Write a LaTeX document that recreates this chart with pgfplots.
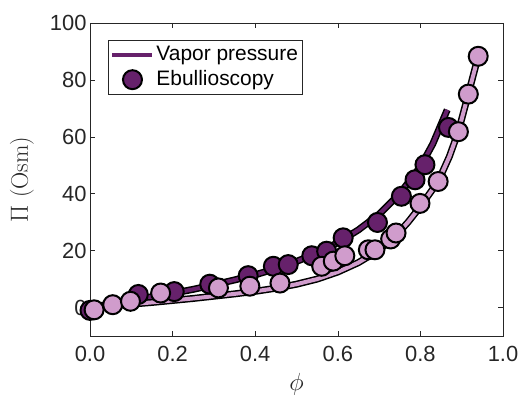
\documentclass[border=0pt]{standalone}
\usepackage{fontspec}
\newfontfamily\arial{Liberation Sans}
\usepackage{pgfplots}
\pgfplotsset{compat=1.18}
\definecolor{darkp}{HTML}{66216B}
\definecolor{lightp}{HTML}{D09CCC}
\definecolor{axgray}{HTML}{262626}
\pgfplotsset{
  linelegend/.style={legend image code/.code={\draw[##1] (0bp,0bp) -- (40bp,0bp);}},
  marklegend/.style={legend image code/.code={\draw[##1] plot coordinates {(20bp,0bp)};}},
}
\pgfplotstableread{
x y
0 0
0.05 1.3
0.1 2.6
0.15 3.8
0.2 5.0
0.25 6.4
0.3 8.0
0.35 9.7
0.4 11.5
0.45 13.7
0.5 16.2
0.55 19.2
0.6 22.8
0.65 27.3
0.7 32.8
0.75 40.0
0.8 49.5
0.83 57.5
0.865 69.5
}\darkline
\pgfplotstableread{
x y
0 0
0.05 0.6
0.1 1.2
0.15 1.8
0.2 2.5
0.25 3.2
0.3 4.0
0.35 4.8
0.4 5.7
0.45 6.8
0.5 8.2
0.55 10.0
0.6 12.5
0.65 15.8
0.7 20.2
0.74 25.2
0.77 30.0
0.8 35.5
0.843 44.3
0.87 53.0
0.892 61.9
0.916 75.0
0.94 88.3
}\lightline
\pgfplotstableread{
x y
0.0 -1.0
0.117 4.6
0.204 5.6
0.29 8.2
0.383 11.2
0.444 14.5
0.48 15.1
0.537 18.2
0.573 19.8
0.613 24.5
0.696 29.9
0.754 39.1
0.787 44.9
0.811 50.2
0.868 63.3
}\darkpts
\pgfplotstableread{
x y
0.01 -0.8
0.055 1.0
0.098 2.2
0.171 5.1
0.311 6.9
0.387 7.5
0.46 8.6
0.561 14.5
0.589 16.3
0.617 18.2
0.674 20.3
0.69 20.3
0.728 24.1
0.741 26.2
0.799 36.6
0.843 44.3
0.892 61.8
0.916 75.0
0.94 88.3
}\lightpts
\begin{document}
\begin{tikzpicture}
\begin{axis}[
  at={(0,0)}, anchor=south west,
  scale only axis, width=413bp, height=313bp,
  xmin=0, xmax=1, ymin=-10, ymax=100,
  xtick={0,0.2,0.4,0.6,0.8,1.0},
  ytick={0,20,40,60,80,100},
  xticklabel style={yshift=-7bp, /pgf/number format/.cd, fixed, fixed zerofill, precision=1},
  /pgf/number format/assume math mode=true,
  tick align=inside, tick pos=both,
  major tick length=5bp,
  axis line style={axgray, line width=0.6bp},
  every tick/.style={axgray, line width=0.6bp},
  tick label style={font=\arial\fontsize{22}{26}\selectfont, text=axgray},
  xlabel={$\phi$}, ylabel={$\Pi$ (Osm)},
  label style={font=\fontsize{24}{29}\selectfont, text=axgray},
  xlabel style={at={(rel axis cs:0.5,-0.153)}, anchor=center},
  ylabel style={at={(rel axis cs:-0.165,0.5)}, anchor=center},
  clip=false,
  legend style={at={(rel axis cs:0.044,0.946)}, anchor=north west,
    font=\arial\fontsize{21}{25}\selectfont, draw=axgray, line width=0.6bp,
    inner xsep=2bp, inner ysep=3bp, row sep=2bp, cells={anchor=west}, fill=white,
    nodes={text height=15bp, text depth=4bp}},
]
\addplot[black, line width=7bp, forget plot] table {\darkline};
\addplot[darkp, line width=4bp, forget plot] table {\darkline};
\addplot[black, line width=7bp, forget plot] table {\lightline};
\addplot[lightp, line width=4bp, forget plot] table {\lightline};
\addplot[only marks, mark=*, mark size=9.5bp, mark options={draw=black, fill=darkp, line width=2bp}, forget plot] table {\darkpts};
\addplot[only marks, mark=*, mark size=9.5bp, mark options={draw=black, fill=lightp, line width=2bp}, forget plot] table {\lightpts};
\addlegendimage{linelegend, darkp, line width=4bp}
\addlegendentry{Vapor pressure}
\addlegendimage{marklegend, only marks, mark=*, mark size=9.5bp, mark options={draw=black, fill=darkp, line width=2bp}}
\addlegendentry{Ebullioscopy}
\end{axis}
\pgfresetboundingbox
\useasboundingbox (-90bp,-60bp) rectangle (432bp,336bp);
\end{tikzpicture}
\end{document}
